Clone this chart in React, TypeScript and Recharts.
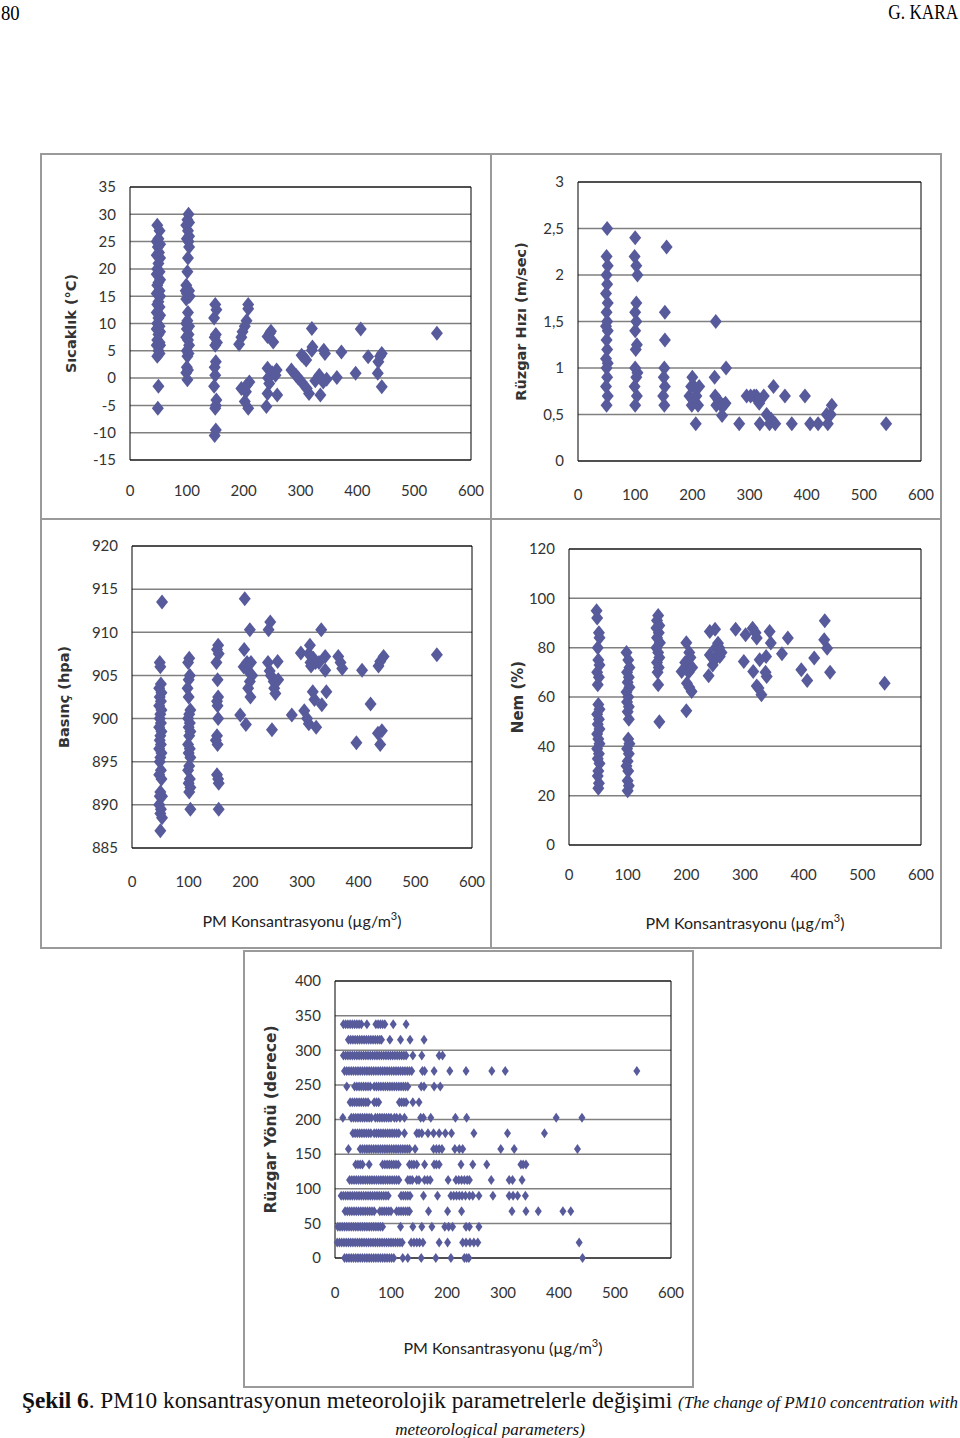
import React from 'react';
import { ScatterChart, Scatter, XAxis, YAxis, CartesianGrid, ReferenceLine, Label } from 'recharts';

const MARKER = '#585b9b';

const pmTicks = [0, 100, 200, 300, 400, 500, 600];
const sicaklikTicks = [-15, -10, -5, 0, 5, 10, 15, 20, 25, 30, 35];
const hizTicks = [0, 0.5, 1, 1.5, 2, 2.5, 3];
const basincTicks = [885, 890, 895, 900, 905, 910, 915, 920];
const nemTicks = [0, 20, 40, 60, 80, 100, 120];
const yonTicks = [0, 50, 100, 150, 200, 250, 300, 350, 400];

type Pt = [number, number];

// Sıcaklık (°C) vs PM
const sicaklik: Pt[] = [
  [48, 28], [52, 27], [50, 25.5], [47, 25], [53, 24.5], [49, 24], [51, 23], [47, 22.5], [53, 22], [50, 21],
  [48, 20], [52, 19.5], [47, 19], [53, 18], [50, 17.5], [48, 17], [52, 16], [47, 15.5], [53, 15], [50, 14],
  [48, 13.5], [52, 13], [47, 12], [53, 11.5], [50, 11], [48, 10], [52, 9.5], [47, 9], [53, 8.5], [50, 8],
  [48, 7], [52, 6.5], [47, 6], [53, 6], [50, 5], [48, 4], [52, 4.5], [50, -1.5], [49, -5.5],
  [103, 30], [101, 29], [104, 28.5], [99, 28], [102, 27], [104, 26], [100, 25.5], [103, 25], [104, 24], [102, 22],
  [101, 19.5], [99, 17], [98, 16], [104, 16], [100, 15.5], [103, 15], [99, 14.5], [105, 15], [102, 12], [101, 10.5],
  [99, 10], [104, 9.5], [100, 9], [103, 8], [99, 7.5], [102, 7], [104, 6], [100, 5], [103, 4.5], [101, 4],
  [100, 2], [102, 1.5], [99, 1], [101, -0.3],
  [150, 13.5], [152, 12.5], [148, 11], [151, 8], [149, 7.5], [153, 6.5], [150, 6], [151, 3], [149, 2], [150, 0.5],
  [148, -1.5], [152, -4], [151, -5], [150, -5.5], [151, -9.5], [149, -10.5],
  [192, 6.2], [196, 7.5], [198, 8.5], [202, 9.5], [205, 10.5], [208, 12.7], [208, 13.5], [196, -1.9], [202, -4.3],
  [208, -5.5], [210, -0.7], [204, -2.5], [206, -1.2],
  [242, 7.6], [246, 8.2], [248, 8.6], [252, 6.6], [242, 1.8], [243, 0], [245, -1], [242, -2.8], [240, -5.2],
  [250, 1], [258, 1.5], [256, 0.5], [259, -3.1],
  [284, 1.5], [292, 0.5], [296, 0], [302, -0.7], [302, 4.2], [306, 3.8], [310, 3.3], [320, 5.1], [320, 9.1],
  [321, 5.7], [311, -1.9], [315, -2.8], [326, -0.5], [333, 0.5], [335, -3.1], [340, -0.7], [346, -0.2],
  [341, 5.1], [343, 4.5],
  [364, 0.1], [372, 4.8], [397, 0.9], [406, 9], [419, 3.9], [436, 0.9], [437, 3], [440, 4], [443, 4.5],
  [443, -1.6], [540, 8.2],
];

// Rüzgar hızı (m/sec) vs PM
const ruzgarHizi: Pt[] = [
  [50, 0.6], [52, 0.7], [49, 0.8], [51, 0.9], [50, 1.0], [52, 1.05], [49, 1.1], [51, 1.2], [50, 1.3], [52, 1.4],
  [49, 1.45], [51, 1.5], [50, 1.6], [52, 1.7], [49, 1.8], [51, 1.9], [50, 2.0], [52, 2.1], [50, 2.2], [51, 2.5],
  [100, 0.6], [103, 0.7], [99, 0.8], [102, 0.9], [100, 1.0], [104, 0.95], [101, 1.2], [103, 1.25], [100, 1.4],
  [102, 1.5], [100, 1.6], [102, 1.7], [104, 2.0], [102, 2.1], [99, 2.2], [100, 2.4],
  [151, 0.6], [149, 0.7], [152, 0.8], [150, 0.9], [151, 1.0], [152, 1.3], [152, 1.6], [155, 2.3],
  [195, 0.7], [200, 0.9], [199, 0.6], [203, 0.8], [207, 0.7], [210, 0.6], [206, 0.4], [212, 0.8], [198, 0.8], [202, 0.65],
  [239, 0.9], [241, 1.5], [240, 0.7], [242, 0.6], [246, 0.65], [250, 0.6], [252, 0.49], [255, 0.6], [259, 1.0], [258, 0.62],
  [282, 0.4], [295, 0.7], [302, 0.7], [308, 0.7], [312, 0.7], [317, 0.62], [318, 0.4], [325, 0.7], [330, 0.5],
  [335, 0.4], [338, 0.45], [342, 0.8], [345, 0.4], [362, 0.7], [374, 0.4], [397, 0.7], [406, 0.4], [420, 0.4],
  [435, 0.5], [437, 0.4], [444, 0.6], [442, 0.5], [539, 0.4],
];

// Basınç (hpa) vs PM
const basinc: Pt[] = [
  [53, 913.5], [49, 906.5], [50, 906], [51, 904], [48, 903.5], [52, 903], [49, 902.5], [51, 902], [48, 901.5],
  [52, 901], [50, 900.5], [49, 900], [51, 899.5], [48, 899], [52, 898.5], [50, 898], [49, 897.5], [51, 897],
  [48, 896.5], [52, 896], [50, 895.5], [49, 895], [51, 894], [48, 893.5], [52, 893], [50, 891.5], [49, 891],
  [53, 891], [48, 890], [51, 889.5], [50, 889], [53, 888.5], [50, 887],
  [101, 907], [99, 906.5], [102, 905], [100, 904.5], [98, 903.5], [100, 902.5], [103, 901], [101, 900.5], [99, 900],
  [102, 899.5], [100, 899], [103, 898.5], [101, 898], [99, 897], [102, 896.5], [100, 896], [103, 895.5], [101, 894.5],
  [99, 894], [102, 893], [100, 892.5], [103, 892], [101, 891.5], [103, 889.5],
  [152, 908.5], [150, 908], [153, 907.5], [149, 906.5], [151, 904.5], [152, 902.5], [150, 902], [151, 901.5],
  [152, 900], [150, 898], [148, 897.5], [151, 897], [150, 893.5], [152, 893], [153, 892.5], [153, 889.5],
  [198, 908], [199, 913.9], [197, 906], [203, 906.5], [205, 905.5], [208, 910.3], [210, 906.5], [208, 904.3],
  [205, 903.5], [209, 902.5], [191, 900.4], [201, 899.3], [212, 905],
  [241, 910.3], [244, 911.2], [240, 906.5], [243, 905.5], [245, 905], [250, 904.3], [251, 903.5], [253, 902.9],
  [257, 906.6], [258, 904.5], [247, 898.7],
  [282, 900.4], [298, 907.6], [304, 900.9], [309, 900], [312, 899.4], [314, 908.5], [312, 907.5], [315, 906.5],
  [316, 906.1], [324, 906.5], [319, 903.1], [322, 902.2], [320, 907], [325, 899], [334, 910.3], [341, 907.2],
  [341, 905.6], [343, 903.1], [335, 901.6], [330, 906.5], [364, 907.2], [368, 906.5], [371, 905.8], [396, 897.2],
  [406, 905.6], [421, 901.7], [435, 906.1], [438, 906.6], [444, 907.2], [434, 898.3], [441, 898.6], [438, 897],
  [538, 907.4],
];

// Nem (%) vs PM
const nem: Pt[] = [
  [47, 95], [48, 92], [51, 86], [52, 84], [49, 80], [50, 75], [52, 73], [48, 70], [51, 68], [49, 65], [50, 57],
  [52, 55], [48, 53], [51, 51], [49, 49], [52, 47], [48, 45], [50, 43], [52, 41], [48, 39], [51, 37], [49, 35],
  [52, 33], [50, 30], [49, 28], [51, 25], [50, 23],
  [98, 78], [101, 75], [103, 72], [99, 70], [102, 68], [100, 66], [103, 64], [98, 62], [101, 60], [99, 58],
  [102, 56], [100, 54], [102, 51], [101, 43], [103, 41], [99, 39], [102, 37], [100, 34], [98, 32], [101, 30],
  [100, 26], [102, 24], [100, 22],
  [152, 93], [150, 91], [154, 89], [149, 88], [153, 86], [150, 84], [155, 82], [149, 80], [152, 78], [154, 76],
  [150, 74], [153, 72], [151, 70], [152, 65], [154, 50],
  [192, 70.3], [200, 82], [198, 74], [205, 78], [207, 76], [210, 72], [201, 65.6], [205, 64], [209, 62.2],
  [200, 54.4], [204, 70],
  [238, 68.6], [240, 77], [240, 86.6], [249, 87.5], [248, 75], [245, 73], [254, 81.8], [256, 80], [260, 78],
  [257, 76.4], [250, 80],
  [284, 87.5], [298, 74.4], [301, 85.2], [313, 87.9], [314, 70.3], [320, 64.5], [323, 63.6], [318, 86],
  [320, 83.9], [325, 75.1], [328, 60.9], [337, 68.3], [336, 76.4], [342, 86.6], [344, 81.9], [335, 70],
  [363, 77.5], [373, 83.9], [396, 71], [406, 66.7], [418, 75.8], [436, 90.9], [435, 83.2], [440, 79.8],
  [445, 70], [538, 65.6],
];

// Rüzgar yönü (derece): PM values observed for each of the 16 directions
const yonler = [0, 22.5, 45, 67.5, 90, 112.5, 135, 157.5, 180, 202.5, 225, 247.5, 270, 292.5, 315, 337.5];
const yon0 = [17, 21, 25, 29, 33, 37, 41, 45, 49, 53, 57, 61, 65, 69, 73, 77, 81, 85, 89, 93, 97, 101, 105, 121, 130, 154, 180, 207, 231, 235, 239, 442];
const yon22 = [4, 8, 12, 16, 20, 24, 28, 32, 36, 40, 44, 48, 52, 56, 60, 64, 68, 72, 76, 80, 84, 88, 92, 96, 100, 104, 108, 112, 116, 120, 136, 141, 146, 151, 157, 186, 201, 228, 234, 241, 248, 255, 436];
const yon45 = [5, 9, 13, 17, 21, 25, 29, 33, 37, 41, 45, 49, 53, 57, 61, 65, 69, 73, 77, 81, 85, 117, 139, 155, 173, 196, 203, 210, 234, 240, 257];
const yon67 = [18, 22, 26, 30, 34, 38, 42, 46, 50, 54, 58, 62, 66, 70, 80, 84, 88, 92, 96, 100, 110, 114, 118, 122, 126, 130, 133, 167, 201, 226, 316, 341, 363, 407, 421];
const yon90 = [11, 15, 19, 23, 27, 31, 35, 39, 43, 47, 51, 55, 59, 63, 67, 71, 75, 79, 83, 87, 91, 95, 118, 122, 126, 130, 134, 158, 183, 207, 212, 217, 222, 227, 233, 240, 246, 257, 282, 311, 318, 326, 340];
const yon112 = [26, 30, 34, 38, 42, 46, 50, 54, 58, 62, 66, 70, 74, 78, 82, 86, 90, 94, 98, 102, 106, 110, 114, 130, 134, 138, 146, 150, 160, 165, 170, 202, 216, 221, 226, 231, 236, 240, 279, 311, 317, 334];
const yon135 = [37, 41, 45, 49, 61, 85, 89, 93, 97, 101, 105, 109, 113, 133, 137, 141, 146, 160, 177, 181, 186, 225, 246, 271, 332, 336, 341];
const yon157 = [24, 45, 49, 53, 57, 61, 65, 69, 73, 77, 81, 85, 89, 93, 97, 101, 105, 109, 113, 117, 121, 125, 129, 133, 143, 176, 181, 186, 191, 214, 222, 228, 296, 320, 433];
const yon180 = [32, 36, 40, 44, 48, 52, 56, 60, 64, 70, 74, 78, 82, 86, 90, 94, 98, 102, 106, 110, 114, 124, 146, 150, 155, 166, 176, 186, 197, 208, 248, 308, 374];
const yon202 = [14, 29, 33, 37, 41, 45, 49, 53, 57, 61, 65, 72, 76, 80, 84, 88, 92, 96, 100, 106, 110, 116, 124, 153, 158, 171, 215, 235, 395, 441];
const yon225 = [27, 31, 35, 39, 43, 47, 51, 55, 59, 70, 74, 78, 115, 119, 123, 127, 139, 150];
const yon247 = [21, 35, 39, 43, 47, 51, 55, 59, 63, 70, 74, 78, 82, 86, 90, 94, 98, 102, 106, 110, 114, 118, 122, 126, 130, 154, 159, 177, 188];
const yon270 = [17, 21, 25, 29, 33, 37, 41, 45, 49, 53, 57, 61, 65, 69, 73, 77, 81, 85, 89, 93, 97, 101, 105, 109, 113, 117, 121, 125, 129, 133, 137, 156, 160, 177, 205, 234, 280, 304, 539];
const yon292 = [15, 19, 23, 27, 31, 35, 39, 43, 47, 51, 55, 59, 63, 67, 71, 75, 79, 83, 87, 91, 95, 99, 103, 107, 111, 115, 119, 123, 127, 139, 155, 186, 192];
const yon315 = [24, 28, 32, 36, 40, 44, 48, 52, 56, 60, 64, 68, 72, 76, 80, 83, 98, 117, 134, 159];
const yon337 = [15, 19, 23, 27, 31, 35, 39, 43, 47, 57, 73, 77, 81, 85, 89, 104, 127];

const yonRows = [yon0, yon22, yon45, yon67, yon90, yon112, yon135, yon157, yon180, yon202, yon225, yon247, yon270, yon292, yon315, yon337];
const ruzgarYonu: Pt[] = yonRows.flatMap((xs, i) => xs.map((x) => [x, yonler[i]] as Pt));

const tickStyle = { fontSize: 15, fontFamily: 'Lato, sans-serif', fill: '#333' };

const makeDiamond = (w: number, h: number) => (props: any) => {
  const { cx, cy } = props;
  if (cx == null || cy == null) return null;
  return (
    <path
      d={`M${cx},${cy - h / 2}L${cx + w / 2},${cy}L${cx},${cy + h / 2}L${cx - w / 2},${cy}Z`}
      fill={MARKER}
    />
  );
};

const PmTitle = (props: any) => {
  const vb = props.viewBox;
  const cx = vb.x + vb.width / 2;
  const cy = vb.y + vb.height / 2 + 6;
  return (
    <text x={cx} y={cy} textAnchor="middle" fontFamily="Lato, sans-serif" fontSize={16} fill="#222">
      PM Konsantrasyonu (µg/m<tspan dy={-7} fontSize={11}>3</tspan>
      <tspan dy={7}>)</tspan>
    </text>
  );
};

interface PanelProps {
  data: Pt[];
  plot: [number, number, number, number];
  yTicks: number[];
  yLabel: string;
  labelX: number;
  labelSize?: number;
  titleY?: number;
  tickGap: number;
  comma?: boolean;
  mw: number;
  mh: number;
}

function Panel({ data, plot, yTicks, yLabel, labelX, labelSize = 14.5, titleY, tickGap, comma, mw, mh }: PanelProps) {
  const [pl, pt, pr, pb] = plot;
  const yW = 2 * (pl - labelX);
  const left = pl - yW;
  const top = pt - 15;
  const xH = titleY ? 2 * (titleY - pb) : 45;
  const width = pr + 30 - left;
  const height = pb - top + xH + 5;
  const pts = data.map(([x, y]) => ({ x, y }));
  const yMin = yTicks[0];
  const yMax = yTicks[yTicks.length - 1];
  return (
    <div style={{ position: 'absolute', left, top, width, height }}>
      <ScatterChart width={width} height={height} margin={{ top: 15, right: 30, bottom: 5, left: 0 }}>
        <CartesianGrid vertical={false} stroke="#808080" strokeWidth={1.5} />
        <XAxis
          type="number"
          dataKey="x"
          domain={[0, 600]}
          ticks={pmTicks}
          interval={0}
          height={xH}
          tickSize={0}
          tickMargin={tickGap}
          tickLine={false}
          axisLine={{ stroke: '#000' }}
          tick={tickStyle}
        >
          {titleY ? <Label position="center" content={<PmTitle />} /> : null}
        </XAxis>
        <YAxis
          type="number"
          dataKey="y"
          domain={[yMin, yMax]}
          ticks={yTicks}
          interval={0}
          width={yW}
          tickSize={0}
          tickMargin={14}
          tickLine={false}
          axisLine={{ stroke: '#000' }}
          tick={tickStyle}
          tickFormatter={(v: number) => (comma ? String(v).replace('.', ',') : String(v))}
        >
          <Label
            value={yLabel}
            angle={-90}
            position="center"
            fontFamily="DejaVu Sans, sans-serif"
            fontWeight="bold"
            fontSize={labelSize}
            fill="#333"
          />
        </YAxis>
        <ReferenceLine y={yMax} stroke="#000" />
        <ReferenceLine x={600} stroke="#000" />
        <Scatter data={pts} shape={makeDiamond(mw, mh)} isAnimationActive={false} />
      </ScatterChart>
    </div>
  );
}

const frame = (left: number, top: number, width: number, height: number) => (
  <div
    style={{
      position: 'absolute',
      left,
      top,
      width,
      height,
      boxSizing: 'border-box',
      border: '2px solid #9a9a9a',
    }}
  />
);

export default function App() {
  return (
    <div style={{ position: 'absolute', left: 0, top: 0, width: 960, height: 1438, background: '#fff', overflow: 'hidden' }}>
      <div
        style={{
          position: 'absolute',
          left: 1,
          top: 0,
          fontFamily: 'Liberation Serif, serif',
          fontSize: 22,
          lineHeight: 'normal',
          transform: 'scaleX(0.85)',
          transformOrigin: 'left top',
        }}
      >
        80
      </div>
      <div
        style={{
          position: 'absolute',
          right: 2,
          top: 0,
          fontFamily: 'Liberation Serif, serif',
          fontSize: 21,
          lineHeight: 'normal',
          whiteSpace: 'nowrap',
          transform: 'scaleX(0.82)',
          transformOrigin: 'right top',
        }}
      >
        G. KARA
      </div>

      {frame(40, 153, 452, 367)}
      {frame(490, 153, 452, 367)}
      {frame(40, 518, 452, 431)}
      {frame(490, 518, 452, 431)}
      {frame(243, 950, 451, 438)}

      <Panel data={sicaklik} plot={[130, 187, 471, 460]} yTicks={sicaklikTicks} yLabel="Sıcaklık (°C)" labelX={71} tickGap={25} mw={12} mh={15} />
      <Panel data={ruzgarHizi} plot={[578, 182, 921, 461]} yTicks={hizTicks} yLabel="Rüzgar Hızı (m/sec)" labelX={521} tickGap={28} comma mw={12} mh={15} />
      <Panel data={basinc} plot={[132, 546, 472, 848]} yTicks={basincTicks} yLabel="Basınç (hpa)" labelX={64} titleY={921} tickGap={28} mw={12} mh={15} />
      <Panel data={nem} plot={[569, 549, 921, 845]} yTicks={nemTicks} yLabel="Nem (%)" labelX={518} labelSize={15} titleY={923} tickGap={24} mw={12} mh={15} />
      <Panel data={ruzgarYonu} plot={[335, 981, 671, 1258]} yTicks={yonTicks} yLabel="Rüzgar Yönü (derece)" labelX={270} labelSize={15.5} titleY={1348} tickGap={29} mw={7} mh={10} />

      <div
        style={{
          position: 'absolute',
          left: 20,
          top: 1388,
          width: 940,
          textAlign: 'center',
          fontFamily: 'Liberation Serif, serif',
          fontSize: 23.3,
          lineHeight: '24px',
          whiteSpace: 'nowrap',
          color: '#111',
        }}
      >
        <b>Şekil 6</b>. PM10 konsantrasyonun meteorolojik parametrelerle değişimi{' '}
        <i style={{ fontSize: 17 }}>(The change of PM10 concentration with</i>
        <br />
        <i style={{ fontSize: 17 }}>meteorological parameters)</i>
      </div>
    </div>
  );
}
